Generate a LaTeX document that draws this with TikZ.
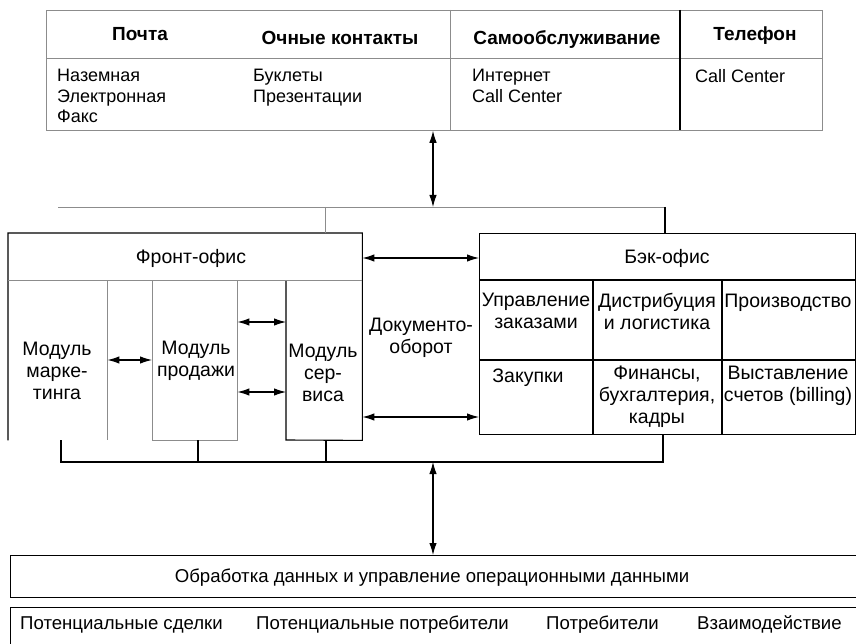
\documentclass[tikz,border=0pt]{standalone}
\usepackage{fontspec}
\setmainfont{Liberation Sans}
\usetikzlibrary{arrows.meta}
\begin{document}
\begin{tikzpicture}[x=1pt,y=-1pt,
  txt/.style={font=\fontsize{18}{20.5}\selectfont, inner sep=0pt, align=center},
  mid/.style={font=\fontsize{19.5}{22}\selectfont, inner sep=0pt, align=center},
  low/.style={font=\fontsize{18.6}{21}\selectfont, inner sep=0pt, align=center},
  hdr/.style={font=\fontsize{19}{21}\selectfont\bfseries, inner sep=0pt, anchor=base},
  mainline/.style={draw=black, line width=1.1pt},
  faint/.style={draw=black!45, line width=0.8pt},
  box/.style={rectangle, inner sep=0pt, anchor=north west},
  dbl/.style={{Latex[length=12pt,width=7.5pt]}-{Latex[length=12pt,width=7.5pt]}, line width=1.1pt, draw=black},
]
\useasboundingbox (0,0) rectangle (856,644);
\clip (0,0) rectangle (856,644);

% ---------- channels box ----------
\node[box, faint, minimum width=776pt, minimum height=120pt] (top) at (46,10) {};
\draw[faint] (top.west |- 0,58) -- (top.east |- 0,58);
\draw[faint] (450,10) -- (450,130);
\draw[mainline] (680,10) -- (680,130);
\node[hdr] (hPost) at (140,41) {Почта};
\node[hdr] (hMeet) at (340,45) {Очные контакты};
\node[hdr] (hSelf) at (567,45) {Самообслуживание};
\node[hdr] (hTel)  at (755,41) {Телефон};
\node[txt, align=left, anchor=north west] (bPost) at (57,69) {Наземная\\Электронная\\Факс};
\node[txt, align=left, anchor=north west] (bMeet) at (253,69) {Буклеты\\Презентации};
\node[txt, align=left, anchor=north west] (bSelf) at (472,69) {Интернет\\Call Center};
\node[txt, align=left, anchor=north west] (bTel)  at (695,69) {Call Center};

% ---------- upper bus ----------
\coordinate (busT) at (433,207);
\coordinate (busTL) at (58,207);
\coordinate (busTR) at (665,207);
\draw[faint] (busTL) -- (busTR);

% ---------- front office ----------
\node[box, minimum width=354pt, minimum height=207pt] (fo) at (8,233) {};
\draw[mainline] (fo.south west) -- (fo.north west) -- (fo.north east) -- (fo.south east) -- (286,440) -- (286,280);
\draw[faint] (fo.west |- 0,280) -- (fo.east |- 0,280);
\node[mid] (foTitle) at (191,258) {Фронт-офис};
\node[box, minimum width=99pt, minimum height=160pt] (mark) at (8,280) {};
\node[box, minimum width=85pt, minimum height=160pt] (sale) at (152,280) {};
\node[box, minimum width=76pt, minimum height=160pt] (serv) at (286,280) {};
\draw[faint] (mark.north east) -- (mark.south east);
\draw[faint] (sale.north west) -- (sale.south west) -- (sale.south east) -- (sale.north east);
\node[mid] (tMark) at (57,371) {Модуль\\марке-\\тинга};
\node[mid] (tSale) at (196,361) {Модуль\\продажи};
\node[mid] (tServ) at (323,373) {Модуль\\сер-\\виса};
\draw[faint] (busTL -| 325,0) -- (fo.north -| 325,0);

% ---------- document flow ----------
\node[mid] (docs) at (421,338) {Документо-\\оборот};

% ---------- back office ----------
\node[box, mainline, minimum width=376pt, minimum height=201pt] (bo) at (479,233) {};
\draw[mainline] (busTR) -- (busTR |- bo.north);
\draw[mainline] (bo.west |- 0,280) -- (bo.east |- 0,280);
\draw[mainline] (bo.west |- 0,360) -- (bo.east |- 0,360);
\draw[mainline] (593,280) -- (593,434);
\draw[mainline] (722,280) -- (722,434);
\node[mid] (boTitle) at (667,258) {Бэк-офис};
\node[mid] (c11) at (536,311) {Управление\\заказами};
\node[mid] (c12) at (657,311) {Дистрибуция\\и логистика};
\node[mid, anchor=base] (c13) at (788,307) {Производство};
\node[mid, anchor=base] (c21) at (528,382) {Закупки};
\node[mid] (c22) at (657,397) {Финансы,\\бухгалтерия,\\кадры};
\node[mid] (c23) at (788,386) {Выставление\\счетов (billing)};

% ---------- lower bus ----------
\coordinate (busB) at (433,462);
\coordinate (busBL) at (61,462);
\coordinate (busBR) at (663,462);
\draw[mainline] (busBL |- mark.south) -- (busBL) -- (busBR) -- (busBR |- bo.south);
\draw[mainline] (busB -| 198,0) -- (sale.south -| 198,0);
\draw[mainline] (busB -| 326,0) -- (serv.south -| 326,0);

% ---------- bottom boxes ----------
\node[box, mainline, minimum width=860pt, minimum height=42pt] (proc) at (10,555) {};
\node[low, anchor=base] (tProc) at (432,582) {Обработка данных и управление операционными данными};
\node[box, mainline, minimum width=860pt, minimum height=60pt] (data) at (10,607) {};
\node[low, anchor=base west] (d1) at (20,629) {Потенциальные сделки};
\node[low, anchor=base west] (d2) at (256,629) {Потенциальные потребители};
\node[low, anchor=base west] (d3) at (546,629) {Потребители};
\node[low, anchor=base west] (d4) at (697,629) {Взаимодействие};

% ---------- arrows ----------
\draw[dbl] (top.south -| busT) -- (busT);
\draw[dbl] (busB) -- (proc.north -| busB);
\draw[dbl] (fo.east |- 0,258) -- (bo.west |- 0,258);
\draw[dbl] (fo.east |- 0,417) -- (bo.west |- 0,417);
\draw[dbl] (mark.east |- 0,360) -- (sale.west |- 0,360);
\draw[dbl] (sale.east |- 0,322) -- (serv.west |- 0,322);
\draw[dbl] (sale.east |- 0,392) -- (serv.west |- 0,392);
\end{tikzpicture}
\end{document}
